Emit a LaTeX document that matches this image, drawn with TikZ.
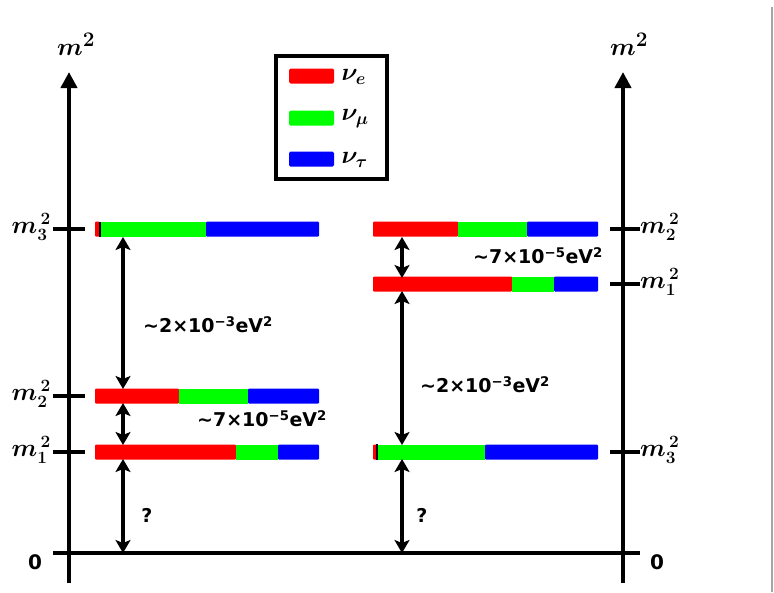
\documentclass[tikz,border=0pt]{standalone}
\usepackage{fontspec}
\setsansfont{DejaVu Sans}
\usetikzlibrary{arrows.meta}

\tikzset{
  axis/.style={line width=4.5pt,-{Triangle[length=16pt,width=16pt]}},
  tick/.style={line width=4pt},
  gap/.style={line width=3.5pt,{Stealth[length=13pt,width=15pt,inset=3pt]}-{Stealth[length=13pt,width=15pt,inset=3pt]}},
  lvl/.style={font=\fontsize{25}{27}\selectfont\boldmath},
  val/.style={font=\fontsize{19}{22}\selectfont\sffamily\bfseries},
  nu/.style={font=\fontsize{27}{29}\selectfont\boldmath,anchor=west}
}

\begin{document}
\begin{tikzpicture}[x=1pt,y=-1pt]
\useasboundingbox (0,0) rectangle (774,592);
\draw[gray!70,line width=1.5pt] (772,7) -- (772,592);

% Axes
\coordinate (Lbot) at (69,583);
\coordinate (Ltop) at (69,72);
\coordinate (Rbot) at (623,583);
\coordinate (Rtop) at (623,72);
\coordinate (zl) at (53,553);
\coordinate (zr) at (640,553);
\draw[axis] (Lbot) -- (Ltop);
\draw[axis] (Rbot) -- (Rtop);
\draw[tick] (zl) -- (zr);
\node[font=\fontsize{31}{33}\selectfont\boldmath] (mL) at (76,44) {$m^2$};
\node[font=\fontsize{31}{33}\selectfont\boldmath] (mR) at (629,44) {$m^2$};
\node[val,font=\fontsize{20}{22}\selectfont\sffamily\bfseries] (zeroL) at (35,562) {0};
\node[val,font=\fontsize{20}{22}\selectfont\sffamily\bfseries] (zeroR) at (657,562) {0};

% Ticks
\foreach \y/\n in {229/3,396/2,452/1} {
  \draw[tick] (53,\y) -- (85,\y);
  \node[lvl,anchor=east,inner sep=1pt] (tl\n) at (52,\y-2) {$m_{\n}^{\,2}$};
}
\foreach \y/\n in {229/2,284/1,452/3} {
  \draw[tick] (610,\y) -- (640,\y);
  \node[lvl,anchor=west,inner sep=1pt] (tr\n) at (639,\y-2) {$m_{\n}^{\,2}$};
}

% Left spectrum (normal)
\foreach \y/\r/\g in {229/100/206,396/179/248,452/236/278} {
  \fill[red,rounded corners=1pt] (95,\y-7.5) rectangle (\r,\y+7.5);
  \fill[green] (\r,\y-7.5) rectangle (\g,\y+7.5);
  \fill[blue,rounded corners=1pt] (\g,\y-7.5) rectangle (319,\y+7.5);
}
\draw[line width=1.5pt] (100,222) -- (100,237);

% Right spectrum (inverted)
\foreach \y/\r/\g in {229/458/527,284/512/554,452/377/485} {
  \fill[red,rounded corners=1pt] (373,\y-7.5) rectangle (\r,\y+7.5);
  \fill[green] (\r,\y-7.5) rectangle (\g,\y+7.5);
  \fill[blue,rounded corners=1pt] (\g,\y-7.5) rectangle (598,\y+7.5);
}
\draw[line width=1.5pt] (377,444) -- (377,460);

% Splittings
\coordinate (a3) at (123,237);
\coordinate (a2t) at (123,389);
\coordinate (a2b) at (123,403);
\coordinate (a1t) at (123,445);
\coordinate (a1b) at (123,459);
\coordinate (a0) at (123,553);
\draw[gap] (a3) -- (a2t);
\draw[gap] (a2b) -- (a1t);
\draw[gap] (a1b) -- (a0);

\coordinate (b2) at (402,237);
\coordinate (b1t) at (402,278);
\coordinate (b1b) at (402,291);
\coordinate (b3t) at (402,445);
\coordinate (b3b) at (402,459);
\coordinate (b0) at (402,553);
\draw[gap] (b2) -- (b1t);
\draw[gap] (b1b) -- (b3t);
\draw[gap] (b3b) -- (b0);

\node[val] (atm1) at (208,325) {\textasciitilde2×10\textsuperscript{−3}eV\textsuperscript{2}};
\node[val] (sol1) at (262,419) {\textasciitilde7×10\textsuperscript{−5}eV\textsuperscript{2}};
\node[val] (q1) at (147,515) {?};
\node[val] (sol2) at (538,256) {\textasciitilde7×10\textsuperscript{−5}eV\textsuperscript{2}};
\node[val] (atm2) at (485,385) {\textasciitilde2×10\textsuperscript{−3}eV\textsuperscript{2}};
\node[val] (q2) at (422,515) {?};

% Legend
\draw[line width=3.5pt] (276,56) rectangle (387,179);
\foreach \y/\c/\f in {76/red/e,118/green/\mu,159/blue/\tau} {
  \fill[\c,rounded corners=1.5pt] (289,\y-7.5) rectangle (334,\y+7.5);
  \node[nu] (nu\c) at (338,\y+1) {$\nu_{\f}$};
}
\end{tikzpicture}
\end{document}
